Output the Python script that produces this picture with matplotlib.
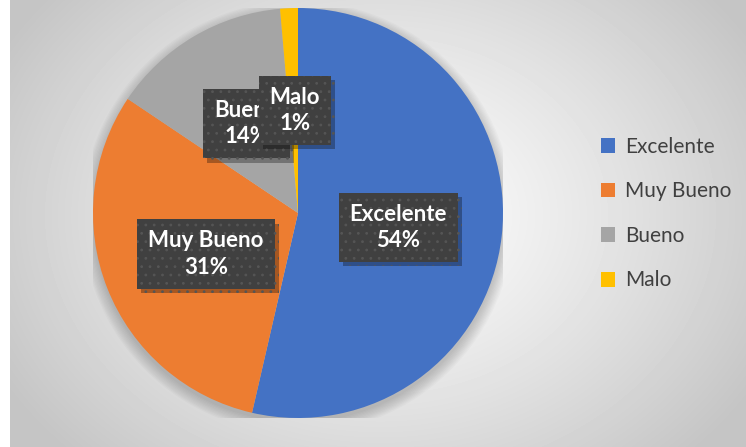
import numpy as np
import matplotlib.pyplot as plt
import matplotlib.patheffects as pe
from matplotlib.patches import Circle

categorias = ['Excelente', 'Muy Bueno', 'Bueno', 'Malo']
valores = [53.6, 30.8, 14.2, 1.4]
etiquetas = ['54%', '31%', '14%', '1%']
colores = ['#4472C4', '#ED7D31', '#A5A5A5', '#FFC000']
# label centres (pie data coords)
pos_etiquetas = [(0.49, -0.07), (-0.45, -0.20), (-0.25, 0.435), (-0.015, 0.50)]

W, H = 746, 447
fig = plt.figure(figsize=(W / 100, H / 100), dpi=100)
fig.patch.set_facecolor('white')

# radial grey background
bg = fig.add_axes([10 / W, 0, 1 - 10 / W, 1])
yy, xx = np.mgrid[0:H, 0:W - 10]
r = np.sqrt(((xx - 370) / 420) ** 2 + ((yy - 215) / 330) ** 2)
grad = np.clip(1.0 - 0.22 * r ** 1.2, 0.77, 1.0)
bg.imshow(grad, cmap='gray', vmin=0, vmax=1, aspect='auto', interpolation='bilinear')
bg.axis('off')

ax = fig.add_axes([(298 - 205) / W, (H - 213 - 205) / H, 410 / W, 410 / H])
ax.axis('off')

# soft shadow under the pie
for i in range(10):
    ax.add_patch(Circle((0.0, -0.02), 1.0 + 0.006 * i, color='black',
                        alpha=0.018, lw=0, zorder=0))

wedges, _ = ax.pie(valores, colors=colores, startangle=90, counterclock=False,
                   radius=1.0, wedgeprops=dict(linewidth=0))
for w in wedges:
    w.set_zorder(1)
ax.set_xlim(-1, 1)
ax.set_ylim(-1, 1)
ax.set_aspect('equal')

plt.rcParams['hatch.linewidth'] = 0.8
for cat, lab, (x, y) in zip(categorias, etiquetas, pos_etiquetas):
    t = ax.text(x, y, cat + '\n' + lab, ha='center', va='center',
                color='white', fontsize=16, fontweight='bold', family='Lato',
                linespacing=1.3, zorder=5,
                bbox=dict(boxstyle='square,pad=0.5', facecolor='#404040',
                          edgecolor='#555555', linewidth=0, hatch='..'))
    t.get_bbox_patch().set_path_effects([
        pe.SimplePatchShadow(offset=(3, -3), shadow_rgbFace='black', alpha=0.3),
        pe.Normal()])

fig.legend(wedges, categorias, loc='upper left', bbox_to_anchor=(582 / W, 1 - 118 / H),
           frameon=False, labelspacing=1.18, handlelength=0.7,
           handleheight=0.7, handletextpad=0.45, prop=dict(family='Lato', size=15),
           labelcolor='#404040')

fig.savefig('out.png', dpi=100)
